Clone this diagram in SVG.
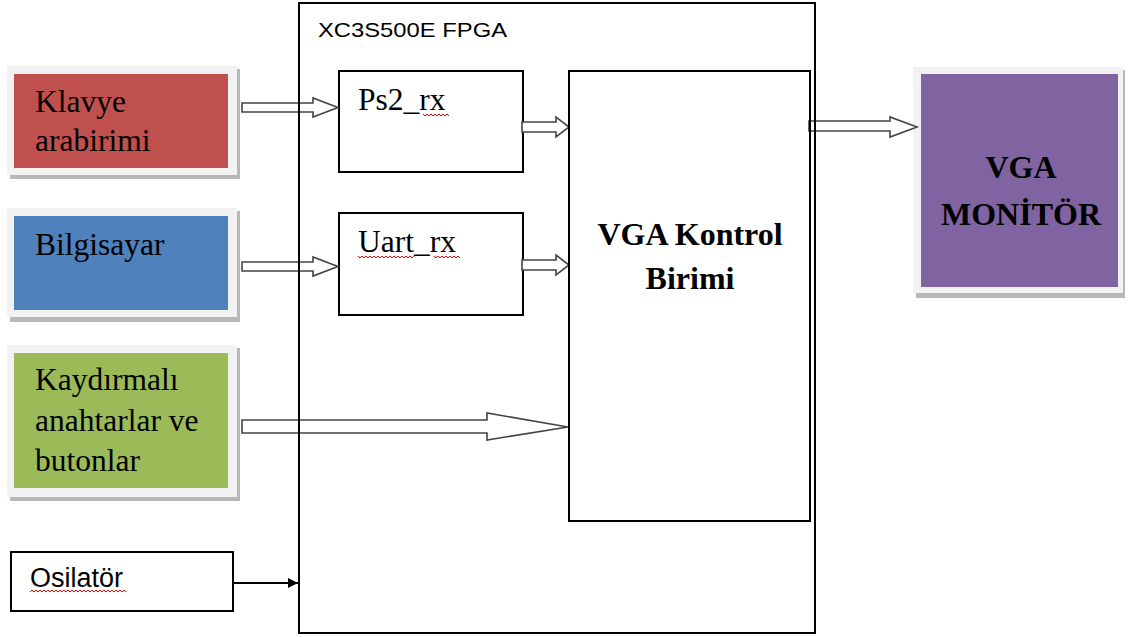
<svg xmlns="http://www.w3.org/2000/svg" width="1131" height="637" viewBox="0 0 1131 637">
<style>
.frame{fill:#f2f2f2}
.shadow{fill:#a6a6a6;opacity:0.8}
.box{fill:#fff;stroke:#000;stroke-width:2}
.outline{fill:none;stroke:#000;stroke-width:2}
.blk{fill:#fff;stroke:#444;stroke-width:1.6;stroke-linejoin:miter}
.serif{font-family:"Liberation Serif","Times New Roman",serif;font-size:31.5px;fill:#000}
.bold{font-family:"Liberation Serif","Times New Roman",serif;font-size:32px;font-weight:bold;fill:#000}
.sans{font-family:"Liberation Sans",Arial,sans-serif;fill:#000}
.squig{fill:none;stroke:#e00;stroke-width:1}
</style>
<defs>
<marker id="tri" markerWidth="10" markerHeight="10" refX="10" refY="5" orient="auto" markerUnits="userSpaceOnUse">
<path d="M0,0 L10,5 L0,10 Z" fill="#000"/>
</marker>
</defs>
<rect width="1131" height="637" fill="#fff"/>

<g id="klavye">
<rect class="shadow" x="10" y="69" width="230" height="110"/>
<rect class="frame" x="7" y="66" width="230" height="109"/>
<rect x="14" y="74" width="214" height="94" fill="#c0504d"/>
<text class="serif" x="35" y="112">Klavye</text>
<text class="serif" x="35" y="151">arabirimi</text>
</g>

<g id="bilgisayar">
<rect class="shadow" x="10" y="211" width="230" height="111"/>
<rect class="frame" x="7" y="208" width="230" height="109"/>
<rect x="14" y="216" width="214" height="94" fill="#4f81bd"/>
<text class="serif" x="35" y="255">Bilgisayar</text>
</g>

<g id="kaydirmali">
<rect class="shadow" x="10" y="348" width="230" height="153"/>
<rect class="frame" x="7" y="345" width="230" height="152"/>
<rect x="14" y="353" width="214" height="135" fill="#9bbb59"/>
<text class="serif" x="35" y="390">Kaydırmalı</text>
<text class="serif" x="35" y="431">anahtarlar ve</text>
<text class="serif" x="35" y="471">butonlar</text>
</g>

<g id="osilator">
<rect class="box" x="11" y="552" width="222" height="59"/>
<text class="sans" x="30" y="587" font-size="27">Osilatör</text>
<path class="squig" d="M30,592 l2,-2 l2,2 l2,-2 l2,2 l2,-2 l2,2 l2,-2 l2,2 l2,-2 l2,2 l2,-2 l2,2 l2,-2 l2,2 l2,-2 l2,2 l2,-2 l2,2 l2,-2 l2,2 l2,-2 l2,2 l2,-2 l2,2 l2,-2 l2,2 l2,-2 l2,2 l2,-2 l2,2 l2,-2 l2,2 l2,-2 l2,2 l2,-2 l2,2 l2,-2 l2,2 l2,-2 l2,2 l2,-2 l2,2 l2,-2 l2,2 l2,-2 l2,2 l2,-2 l2,2"/>
</g>

<g id="monitor">
<rect class="shadow" x="916" y="70" width="209" height="228"/>
<rect class="frame" x="913" y="67" width="210" height="226"/>
<rect x="921" y="74" width="197" height="213" fill="#8064a2"/>
<text class="bold" x="1021" y="178" text-anchor="middle">VGA</text>
<text class="bold" x="1021" y="225" text-anchor="middle">MONİTÖR</text>
</g>

<g id="ps2_rx">
<rect class="box" x="339" y="71" width="184" height="101"/>
<text class="serif" x="358" y="110" font-size="33">Ps2_rx</text>
<path class="squig" d="M423,114 l2,2 l2,-2 l2,2 l2,-2 l2,2 l2,-2 l2,2 l2,-2 l2,2 l2,-2 l2,2 l2,-2 l2,2"/>
</g>

<g id="uart_rx">
<rect class="box" x="339" y="213" width="184" height="102"/>
<text class="serif" x="358" y="252" font-size="33">Uart_rx</text>
<path class="squig" d="M358,256 l2,2 l2,-2 l2,2 l2,-2 l2,2 l2,-2 l2,2 l2,-2 l2,2 l2,-2 l2,2 l2,-2 l2,2 l2,-2 l2,2 l2,-2 l2,2 l2,-2 l2,2 l2,-2 l2,2 l2,-2 l2,2 l2,-2 l2,2 l2,-2 l2,2 l2,-2"/>
<path class="squig" d="M434,256 l2,2 l2,-2 l2,2 l2,-2 l2,2 l2,-2 l2,2 l2,-2 l2,2 l2,-2 l2,2 l2,-2 l2,2"/>
</g>

<g id="vga_kontrol">
<rect class="box" x="569" y="71" width="241" height="450"/>
<text class="bold" x="690" y="245" text-anchor="middle">VGA Kontrol</text>
<text class="bold" x="690" y="289" text-anchor="middle">Birimi</text>
</g>

<g id="connectors">
<path class="blk" d="M242,103 H313 V98 L338,107.5 L313,117 V112 H242 Z"/>
<path class="blk" d="M242,262 H313 V257 L338,266.5 L313,276 V271 H242 Z"/>
<path class="blk" d="M522,122 H556 V117 L569,127 L556,137 V132 H522 Z"/>
<path class="blk" d="M522,260 H556 V255 L569,265 L556,275 V270 H522 Z"/>
<path class="blk" d="M242,420 H487 V413 L568,427 L487,440 V433 H242 Z"/>
<path class="blk" d="M809,121 H890 V117 L917,127 L890,137 V131 H809 Z"/>
<line x1="233" y1="583" x2="298" y2="583" stroke="#000" stroke-width="2" marker-end="url(#tri)"/>
</g>

<g id="fpga">
<rect class="outline" x="299" y="3" width="516" height="630"/>
<text class="sans" x="318" y="37" font-size="21" textLength="189" lengthAdjust="spacingAndGlyphs">XC3S500E FPGA</text>
</g>
<rect x="569" y="71" width="241" height="450" class="outline"/>
</svg>
